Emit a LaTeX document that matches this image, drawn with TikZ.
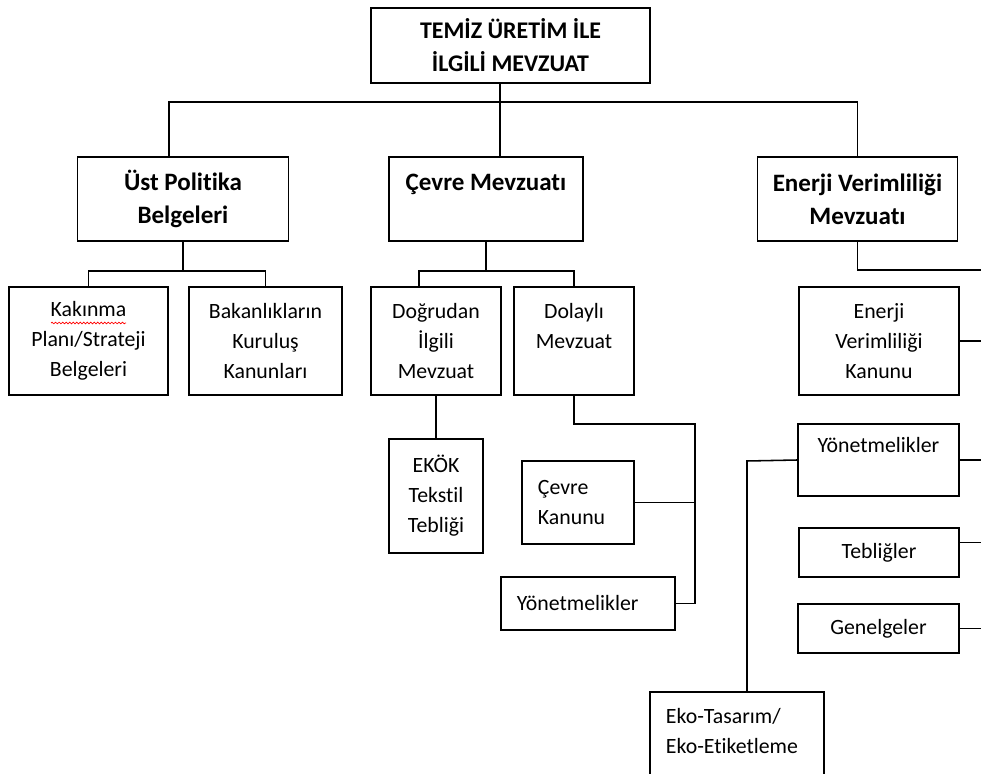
\documentclass[tikz,border=0pt]{standalone}
\usepackage{fontspec}
\setmainfont{Carlito}[Ligatures=NoCommon]
\usetikzlibrary{decorations.pathmorphing}

\begin{document}
\begin{tikzpicture}[x=0.025cm, y=-0.025cm, line width=1.1pt,
		leafbox/.style={draw, align=center, inner sep=2pt, font=\fontsize{15.5}{21.3}\selectfont},
		mainbox/.style={leafbox, font=\bfseries\fontsize{17.8}{23.5}\selectfont},
		rootbox/.style={leafbox, font=\bfseries\fontsize{17}{23.5}\selectfont},
		leftbox/.style={leafbox, align=left, inner xsep=0.4cm}]
		\useasboundingbox (0,0) rectangle (981,774);
		\clip (0,0) rectangle (981,774);

		% ust seviye
		\node[rootbox, minimum width=6.975cm, minimum height=1.875cm] (root) at (510.5,45.5) {TEMİZ ÜRETİM İLE\\İLGİLİ MEVZUAT};
		\node[mainbox, minimum width=5.275cm, minimum height=2.1cm] (ust) at (183,199) {Üst Politika\\Belgeleri};
		\node[mainbox, minimum width=4.85cm, minimum height=2.1cm] (cevre) at (486,199) {Çevre Mevzuatı\\\mbox{}};
		\node[mainbox, minimum width=5cm, minimum height=2.1cm] (enerji) at (857.5,199) {Enerji Verimliliği\\Mevzuatı};

		% politika belgeleri
		\node[leafbox, minimum width=3.975cm, minimum height=2.7cm] (kak) at (88.5,341) {Kakınma\\Planı/Strateji\\Belgeleri};
		\node[leafbox, minimum width=3.825cm, minimum height=2.7cm] (bak) at (265.5,341) {Bakanlıkların\\Kuruluş\\Kanunları};
		\draw[red, line width=0.5pt, decorate, decoration={snake, amplitude=0.6pt, segment length=2.5pt}] (51,323) -- (126,323);

		% cevre mevzuati
		\node[leafbox, minimum width=3.25cm, minimum height=2.7cm] (dog) at (436,341) {Doğrudan\\İlgili\\Mevzuat};
		\node[leafbox, minimum width=3cm, minimum height=2.7cm] (dol) at (574,341) {Dolaylı\\Mevzuat\\\mbox{}};
		\node[leafbox, minimum width=2.35cm, minimum height=2.85cm] (ekok) at (436,496) {EKÖK\\Tekstil\\Tebliği};
		\node[leftbox, text width=2cm, minimum height=2.075cm] (ck) at (578,502.5) {Çevre\\Kanunu};
		\node[leftbox, text width=3.55cm, minimum height=1.325cm] (yon1) at (588,603.5) {Yönetmelikler};

		% enerji verimliligi
		\node[leafbox, minimum width=4cm, minimum height=2.7cm] (evk) at (879,341) {Enerji\\Verimliliği\\Kanunu};
		\node[leafbox, minimum width=4.025cm, minimum height=1.8cm] (yon2) at (878.5,460) {Yönetmelikler\\\mbox{}};
		\node[leafbox, minimum width=4cm, minimum height=1.225cm] (teb) at (879,552.5) {Tebliğler};
		\node[leafbox, minimum width=4.025cm, minimum height=1.225cm] (gen) at (878.5,628.5) {Genelgeler};
		\node[leftbox, text width=3.55cm, minimum height=2.7cm] (eko) at (737,746) {Eko-Tasarım/\\Eko-Etiketleme\\\mbox{}};

		% baglantilar
		\coordinate (trunk) at (500,102);
		\coordinate (ustin) at (169,102);
		\draw (root.south -| trunk) -- (cevre.north -| trunk);
		\draw (ust.north -| ustin) -- (ustin) -| (enerji.north);

		\coordinate (ustbus) at (183,271);
		\draw (ust.south) -- (ustbus);
		\draw (kak.north) |- (ustbus) -| (bak.north);

		\coordinate (dogup) at (419,271);
		\draw (cevre.south) -- (cevre.south |- dogup);
		\draw (dog.north -| dogup) -- (dogup) -| (dol.north);
		\draw (dog.south) -- (ekok.north);

		\coordinate (dolbend) at (695,424);
		\draw (dol.south) |- (dolbend) |- (yon1.east);
		\draw (ck.east) -- (ck.east -| dolbend);

		\coordinate (rail) at (990,270);
		\draw (enerji.south) |- (rail);
		\draw (evk.east) -- (evk.east -| rail);
		\draw (yon2.east) -- (yon2.east -| rail);
		\draw ([yshift=0.25cm]teb.east) -- ([yshift=0.25cm]teb.east -| rail);
		\draw (gen.east) -- (gen.east -| rail);

		\coordinate (ekoup) at (747,461);
		\draw (yon2.west) -- (ekoup) -- (eko.north -| ekoup);
	\end{tikzpicture}
\end{document}
